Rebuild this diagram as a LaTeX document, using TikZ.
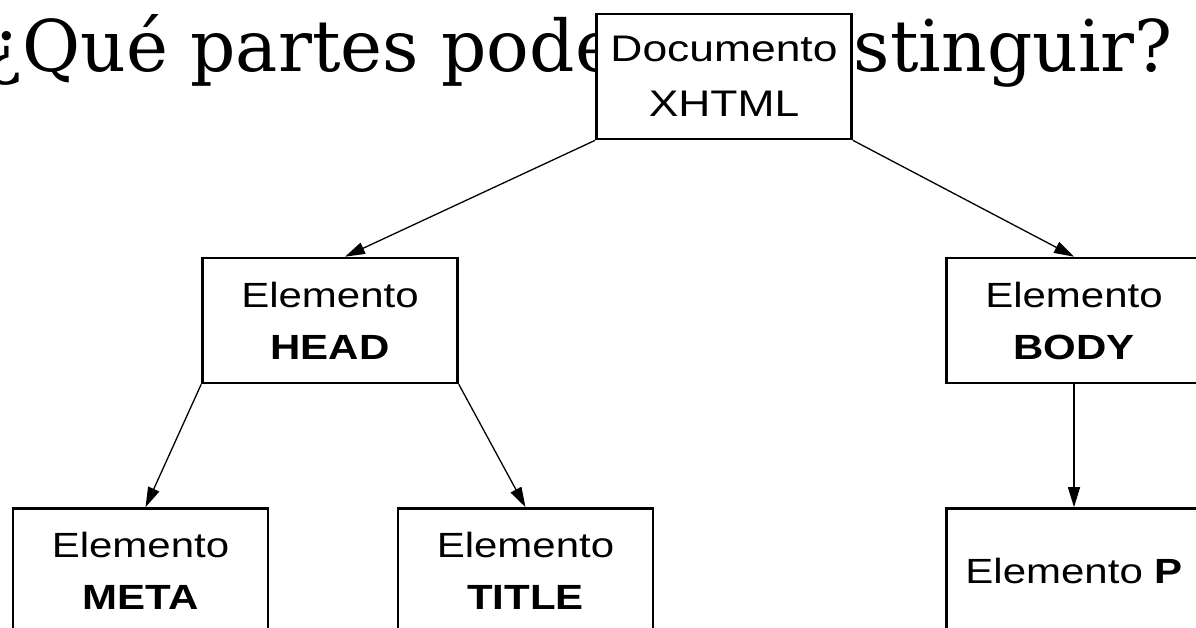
\documentclass[tikz,border=0pt]{standalone}
\usepackage{fontspec}
\usetikzlibrary{arrows.meta}
\newfontfamily\boxfont[FakeStretch=1.2]{Liberation Sans}
\newfontfamily\titlefont{DejaVu Serif}

\tikzstyle{elem} = [rectangle, minimum width=255pt, minimum height=125pt, text centered, align=center, draw=black, line width=2.6pt, fill=white, font=\boxfont\fontsize{35}{52}\selectfont]
\tikzstyle{arrow} = [line width=1.3pt,-{Triangle[length=20pt,width=12pt]}]

\begin{document}
\begin{tikzpicture}[x=1pt, y=1pt, node distance=244pt]
\useasboundingbox (0,0) rectangle (1196,-628);
\node (title) [anchor=base west, inner sep=0pt] at (-16,-72) {\resizebox{1188pt}{57pt}{\titlefont ¿Qué partes podemos distinguir?}};

\node (doc) [elem, font=\boxfont\fontsize{37}{55}\selectfont] at (724,-76.5) {Documento\\XHTML};
\node (head) [elem, below of=doc, xshift=-394pt] {Elemento\\\textbf{HEAD}};
\node (body) [elem, below of=doc, xshift=350pt] {Elemento\\\textbf{BODY}};
\node (meta) [elem, below of=head, xshift=-189.5pt, yshift=-6.5pt] {Elemento\\\textbf{META}};
\node (tit) [elem, below of=head, xshift=195.5pt, yshift=-6.5pt] {Elemento\\\textbf{TITLE}};
\node (par) [elem, below of=body, yshift=-6.5pt] {Elemento \textbf{P}};

\draw [arrow] (doc.south west) -- ([xshift=15pt]head.north);
\draw [arrow] (doc.south east) -- (body.north);
\draw [arrow] (head.south west) -- ([xshift=5pt]meta.north);
\draw [arrow] (head.south east) -- (tit.north);
\draw [arrow] (body) -- (par);
\end{tikzpicture}
\end{document}
